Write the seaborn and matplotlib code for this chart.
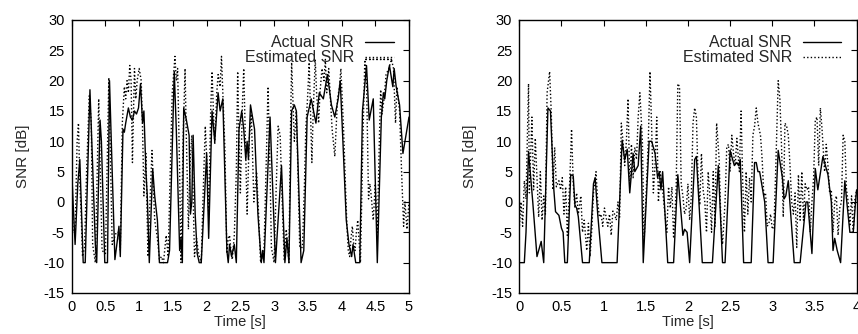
import matplotlib
matplotlib.use("Agg")
import matplotlib.pyplot as plt
import seaborn as sns
import numpy as np
import pandas as pd

# ---------------- data ----------------
left_actual_t = [0.00, 0.02, 0.05, 0.09, 0.12, 0.17, 0.20, 0.27, 0.31, 0.35, 0.37, 0.42, 0.44, 0.49, 0.53,
                 0.56, 0.60, 0.64, 0.68, 0.70, 0.72, 0.76, 0.78, 0.80, 0.84, 0.87, 0.90, 0.93, 0.96, 0.99,
                 1.02, 1.05, 1.07, 1.10, 1.12, 1.15, 1.20, 1.23, 1.27, 1.30, 1.42, 1.45, 1.52, 1.55, 1.60,
                 1.62, 1.64, 1.66, 1.70, 1.74, 1.76, 1.78, 1.80, 1.83, 1.86, 1.89, 1.92, 2.00, 2.03, 2.08,
                 2.12, 2.17, 2.20, 2.24, 2.30, 2.32, 2.34, 2.37, 2.41, 2.44, 2.48, 2.52, 2.55, 2.58, 2.60,
                 2.62, 2.65, 2.71, 2.76, 2.81, 2.83, 2.85, 2.94, 3.02, 3.11, 3.16, 3.19, 3.22, 3.26, 3.30,
                 3.33, 3.40, 3.44, 3.49, 3.55, 3.62, 3.67, 3.73, 3.79, 3.85, 3.90, 3.95, 3.98, 4.02, 4.07,
                 4.11, 4.15, 4.17, 4.21, 4.27, 4.31, 4.37, 4.41, 4.47, 4.53, 4.59, 4.62, 4.64, 4.67, 4.71,
                 4.76, 4.78, 4.81, 4.86, 4.91, 4.94, 5.00]
left_actual_v = [5, 0, -7, 3, 7, -10, -10, 18.5, 6, -7, -10, 13.5, 10, -10, -10,
                 20, 5, -9.5, -6, -4, -9, 12, 11.5, 13, 15.5, 14, 13.5, 15, 14.5, 15.5,
                 19.5, 13, 15, 5, 1, -10, 5.5, 1, -3, -10, -10, -8, 21.5, 12, -8,
                 -6, -10, 15.5, 13.5, 11, -2, 0, 11, -2, -8.5, -10, -10, 8, -6, 15,
                 10, 18, 15, 17, -8, -10, -7, -9, -7, -10, 12, 15, 12, 7, 10,
                 7, 16, 12, -2, -10, -8, -10, 14, -10, 6, -10, -6, -10, 15, 16,
                 15, -10, -8, 14, 17, 13, 18, 17, 21, 16, 14, 17, 20, 10, -3,
                 -7, -9, -7, -10, -10, 15, 22.5, 13.5, 17, -10, 14, 18, 17, 20, 22.5,
                 19, 22, 19, 16, 8, 10, 14]

left_est_t = [0.00, 0.02, 0.05, 0.08, 0.10, 0.12, 0.14, 0.16, 0.19, 0.22, 0.26, 0.29, 0.31, 0.35, 0.40,
              0.45, 0.50, 0.55, 0.60, 0.66, 0.70, 0.72, 0.75, 0.78, 0.80, 0.82, 0.84, 0.86, 0.88, 0.90,
              0.93, 0.95, 0.97, 1.00, 1.03, 1.05, 1.07, 1.10, 1.13, 1.16, 1.19, 1.23, 1.27, 1.30, 1.33,
              1.36, 1.40, 1.43, 1.46, 1.49, 1.53, 1.55, 1.57, 1.60, 1.62, 1.65, 1.68, 1.70, 1.73, 1.75,
              1.78, 1.80, 1.82, 1.85, 1.88, 1.92, 1.95, 1.98, 2.01, 2.03, 2.06, 2.08, 2.10, 2.12, 2.15,
              2.17, 2.20, 2.22, 2.25, 2.27, 2.30, 2.32, 2.34, 2.36, 2.38, 2.41, 2.44, 2.46, 2.48, 2.50,
              2.53, 2.55, 2.58, 2.60, 2.63, 2.66, 2.68, 2.70, 2.74, 2.77, 2.80, 2.85, 2.88, 2.91, 2.94,
              2.96, 3.00, 3.03, 3.06, 3.09, 3.12, 3.15, 3.18, 3.22, 3.24, 3.26, 3.30, 3.33, 3.36, 3.38,
              3.42, 3.45, 3.47, 3.50, 3.52, 3.56, 3.58, 3.61, 3.63, 3.66, 3.68, 3.71, 3.74, 3.76, 3.78,
              3.81, 3.84, 3.86, 3.90, 3.94, 3.97, 3.99, 4.03, 4.06, 4.08, 4.10, 4.12, 4.14, 4.16, 4.18,
              4.20, 4.22, 4.24, 4.28, 4.32, 4.345, 4.74, 4.345, 4.37, 4.40, 4.42, 4.44, 4.47, 4.50, 4.53,
              4.56, 4.58, 4.60, 4.63, 4.66, 4.70, 4.74, 4.77, 4.80, 4.82, 4.86, 4.89, 4.92, 4.94, 4.97,
              5.00]
left_est_v = [5, -5, -5, 10, 13, 3, -2, -9, -7.5, 5, 17.5, 13, -7, -10, 17,
              -8, -8.5, 20.5, -7, -5, -5, -8, 13, 19, 17, 20, 18, 22.5, 20, 6.5,
              22, 17, 20, 22, 20, 12, 1, 8, -9, 0, 8.5, -3, -6, -9.5, -9,
              -10, -5.5, -9, 5, 18, 24, 20, 22, 5, -10, 10, 22, 10, -4.5, 5,
              11, 1, -9, -6, -8.5, -10, 2, 12.5, 5, -2, 15, 21.5, 15, 9.5, 18,
              21, 19, 24, 15, 9, -8.5, -6, -5.5, -8, -9.5, -5.5, 5, 21.5, 10, 1.5,
              16, 22, 8, -2, 10, 14.5, 8, 0, 5, -2, -10, -8, 5, 19, 5,
              -7.5, -10, 2, 12.5, 11, 0, -9.5, -4.5, -10, 10, 23, 10, 15, 2, -7.5,
              -7.5, 3, 12, 18, 23, 6.5, 15, 23.5, 18, 13, 18, 22, 20, 23.5, 18,
              22, 16, 12, 7.5, 17, 19, 22, 12, 2, -4, -8, -9, -6, -4, -7,
              -8, -5, -3, -10, 12, 23.5, 23.5, 23.5, 20, 0.5, 3, 1, -3, 3, -5,
              10, 18.5, 14.5, 17, 21, 22, 23.5, 22, 13, 19, 15, 5, -4, 0, -4.5,
              0]

right_actual_t = [0.00, 0.06, 0.08, 0.11, 0.16, 0.21, 0.26, 0.29, 0.34, 0.37, 0.41, 0.43, 0.47, 0.50, 0.52,
                  0.54, 0.57, 0.61, 0.64, 0.66, 0.68, 0.70, 0.75, 0.83, 0.88, 0.90, 0.93, 0.98, 1.16, 1.22,
                  1.25, 1.28, 1.31, 1.35, 1.37, 1.41, 1.44, 1.47, 1.54, 1.57, 1.61, 1.64, 1.66, 1.68, 1.70,
                  1.76, 1.83, 1.88, 1.94, 1.96, 1.99, 2.02, 2.08, 2.10, 2.17, 2.29, 2.36, 2.41, 2.44, 2.50,
                  2.55, 2.58, 2.60, 2.62, 2.66, 2.75, 2.79, 2.81, 2.83, 2.85, 2.91, 2.95, 3.01, 3.07, 3.12,
                  3.14, 3.16, 3.19, 3.26, 3.33, 3.40, 3.42, 3.47, 3.51, 3.54, 3.60, 3.62, 3.66, 3.70, 3.72,
                  3.74, 3.77, 3.81, 3.86, 3.88, 3.92, 3.96, 3.99, 4.00]
right_actual_v = [-10, -10, -5, 8.3, 0, -9, -6.5, -10, 15.5, 15, 2, -1.6, -2.2, -4.3, -5,
                  -10, -10, 4.5, 4.3, -0.5, -1, -2.4, -10, -10, 3, 4, -2, -10, -10, 10.2,
                  6.9, 8.7, 1.5, 8, 5, 6, 12.5, -10, 10, 10, 8, 4, 5, 2, 5,
                  -10, -10, 4.5, -5.5, -4.5, -5, -10, 7, 7.5, -10, -10, 6, -10, -10, 8.5,
                  6, 6.5, 6, 7, -10, -10, 6.5, 6.5, 5, 5, 0, -10, -10, 8.5, 4,
                  0.5, 1, 3.5, -10, -10, 0, 0, -8.5, 5.5, 2, 7.5, 6.5, 4.5, 0, -8,
                  -6, -8, -10, 3.5, 0.5, -5, -5, 0.5, 2]

right_est_t = [0.00, 0.02, 0.04, 0.06, 0.08, 0.11, 0.12, 0.15, 0.17, 0.19, 0.21, 0.23, 0.25, 0.27, 0.29,
               0.31, 0.33, 0.36, 0.38, 0.40, 0.42, 0.44, 0.47, 0.49, 0.51, 0.53, 0.55, 0.57, 0.60, 0.62,
               0.64, 0.66, 0.68, 0.70, 0.73, 0.75, 0.77, 0.80, 0.82, 0.84, 0.86, 0.88, 0.91, 0.93, 0.95,
               0.97, 0.99, 1.01, 1.03, 1.05, 1.07, 1.09, 1.11, 1.13, 1.15, 1.17, 1.19, 1.21, 1.23, 1.25,
               1.27, 1.29, 1.31, 1.33, 1.35, 1.37, 1.39, 1.41, 1.43, 1.46, 1.48, 1.50, 1.53, 1.55, 1.57,
               1.59, 1.61, 1.63, 1.65, 1.67, 1.70, 1.72, 1.75, 1.77, 1.79, 1.81, 1.83, 1.86, 1.88, 1.90,
               1.92, 1.94, 1.96, 1.98, 2.00, 2.02, 2.04, 2.06, 2.08, 2.10, 2.12, 2.14, 2.16, 2.18, 2.20,
               2.22, 2.24, 2.26, 2.28, 2.30, 2.32, 2.34, 2.37, 2.39, 2.41, 2.44, 2.46, 2.48, 2.50, 2.52,
               2.54, 2.56, 2.58, 2.61, 2.63, 2.65, 2.67, 2.69, 2.71, 2.73, 2.75, 2.77, 2.79, 2.81, 2.83,
               2.86, 2.88, 2.90, 2.92, 2.94, 2.96, 2.98, 3.00, 3.02, 3.04, 3.07, 3.09, 3.11, 3.13, 3.15,
               3.17, 3.19, 3.21, 3.23, 3.25, 3.27, 3.29, 3.31, 3.33, 3.35, 3.37, 3.39, 3.41, 3.43, 3.45,
               3.47, 3.49, 3.51, 3.53, 3.55, 3.57, 3.59, 3.62, 3.64, 3.66, 3.68, 3.70, 3.72, 3.74, 3.76,
               3.78, 3.80, 3.82, 3.84, 3.86, 3.88, 3.90, 3.92, 3.94, 3.96, 3.98, 4.00]
right_est_v = [-4.5, 0, -4, 3.5, 0.5, 19.5, 1.5, 14, 2, 10.5, 4, -2.5, 5, -3, 1,
               -2, 18, 21.5, 14.5, 2, 9, 2.5, 3.5, 2, 4, -2, 2.5, -5.5, 4, 12,
               3, -1, 1.5, -2, 1, -5, -3, -8, -3.5, -9, -4.5, 1.5, 5, 0, -2.5,
               -2, -4, -1, -2.5, -4, -2, -5.5, -1.5, -2, -3, 0, -2.5, 13, 10, 6,
               10, 17, 2.5, 9.5, 4, 9, 7, 14, 18, 10, -6.5, 0, 10, 21.5, 12,
               1.5, 6, 14, 0, 5, 2, -1, -5, 2.5, -1, 2.5, -6, 2, 19.5, 19,
               3, 1, -2, -1, 3, -3, 1, 13, 15.5, 14, 4, -0.5, 8, 2, 0,
               -5, 5, 1, -5, 5, -4, 13, 7, -3, -7, 0, 9, 9.5, 5, 11,
               8, 6, 10.5, 5, 15, 3, -5, 5, -2, 4, 0, 11, 12.5, 15.5, 13,
               11, 7, 1, 1.5, -4, -3.5, -2, -4.5, -4, 5, 20, 17, 9, -2.5, 13,
               12.5, 11, 6, 0, -2, 1.5, -7.5, 4.5, -3, 5, -3, 3, 2, 2.5, -5,
               0, 4, 13.5, 14, 6, 15.5, 12, 5, 9.5, 6, 1.5, 2, -5, 0, 1,
               -5.5, -1, 0, 11, 10, 2, 0, -4, 1, -5, 0.5, 2]

x_ticks_left = [0, 0.5, 1, 1.5, 2, 2.5, 3, 3.5, 4, 4.5, 5]
x_ticks_right = [0, 0.5, 1, 1.5, 2, 2.5, 3, 3.5, 4]
y_ticks = [-15, -10, -5, 0, 5, 10, 15, 20, 25, 30]

# ---------------- styling ----------------
sns.set_style("white")
plt.rcParams['font.family'] = ['Liberation Sans', 'DejaVu Sans']
plt.rcParams['font.size'] = 10

fig = plt.figure(figsize=(8.58, 3.34), dpi=100)
ax1 = fig.add_axes([0.0836, 0.1228, 0.3931, 0.8174])
ax2 = fig.add_axes([0.6052, 0.1228, 0.3932, 0.8174])

dotted = (0, (1.0, 1.6))


def fmt(v):
    return f"{v:g}"


def panel(ax, ta, va, te, ve, xticks, hlen):
    da = pd.DataFrame({"t": ta, "v": va})
    de = pd.DataFrame({"t": te, "v": ve})
    sns.lineplot(data=da, x="t", y="v", ax=ax, sort=False, estimator=None,
                 color="black", linewidth=1.0, label="Actual SNR")
    sns.lineplot(data=de, x="t", y="v", ax=ax, sort=False, estimator=None,
                 color="black", linewidth=1.0, linestyle=dotted, label="Estimated SNR")
    ax.set_xlim(xticks[0], xticks[-1])
    ax.set_ylim(-15, 30)
    ax.set_xticks(xticks)
    ax.set_xticklabels([fmt(x) for x in xticks])
    ax.set_yticks(y_ticks)
    ax.set_yticklabels([fmt(y) for y in y_ticks])
    ax.tick_params(direction="in", length=4, width=0.8, top=True, right=True,
                   labelsize=10.5, color="black", labelcolor="black")
    ax.tick_params(axis="x", pad=5)
    ax.tick_params(axis="y", pad=5)
    for s in ax.spines.values():
        s.set_color("black")
        s.set_linewidth(1.0)
    ax.set_xlabel("Time [s]", fontsize=10.5, labelpad=1)
    ax.set_ylabel("SNR [dB]", fontsize=11, labelpad=10)
    ax.grid(False)
    ax.legend(loc="upper right", frameon=False, markerfirst=False,
              handlelength=hlen, handletextpad=0.7, labelspacing=0.0,
              borderaxespad=0.4, borderpad=0.55, fontsize=11.5)


panel(ax1, left_actual_t, left_actual_v, left_est_t, left_est_v, x_ticks_left, 1.8)
panel(ax2, right_actual_t, right_actual_v, right_est_t, right_est_v, x_ticks_right, 2.4)

fig.savefig("out.png", dpi=100)
